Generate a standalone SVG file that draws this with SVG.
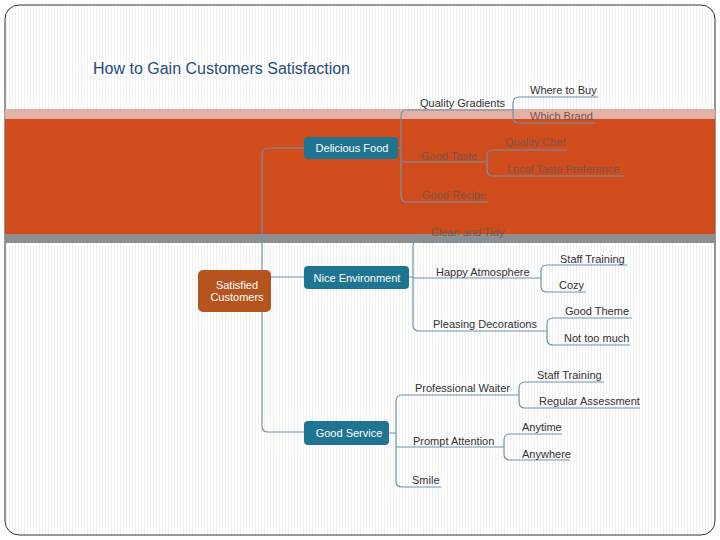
<svg xmlns="http://www.w3.org/2000/svg" width="720" height="540" viewBox="0 0 720 540">
<defs>
<pattern id="st" width="3" height="4" patternUnits="userSpaceOnUse"><rect width="3" height="4" fill="#fff"/><rect width="1" height="4" fill="#f1f1f1"/></pattern>
</defs>
<style>
.t{font-family:"Liberation Sans",Arial,sans-serif;font-size:11px;fill:#333}
.d{fill:#7a5548}
.w{font-family:"Liberation Sans",Arial,sans-serif;font-size:11px;fill:#fff;text-anchor:middle}
.l{fill:none;stroke:#6f93aa;stroke-width:1.2}
.b{fill:#1f7591}
</style>
<rect width="720" height="540" fill="#fff"/>
<rect x="5" y="5" width="710" height="530" rx="14" fill="url(#st)" stroke="#333" stroke-width="1"/>
<rect x="5" y="109" width="710" height="10" fill="#e3b0a6"/>
<rect x="5" y="119" width="710" height="115" fill="#d04c1c"/>
<rect x="5" y="234" width="710" height="9" fill="#8f8f8f"/>
<text x="93" y="74" font-family="Liberation Sans,Arial,sans-serif" font-size="16" fill="#1f4e79">How to Gain Customers Satisfaction</text>
<g id="connectors">
<path class="l" d="M304 148 H268 Q262 148 262 154 V426 Q262 432 268 432 H304 M271 277 H304"/>
<path class="l" d="M398 148 H401 M510 110 H407 Q401 110 401 116 V196 Q401 202 407 202 H488 M401 162 H487"/>
<path class="l" d="M598 97 H519 Q513 97 513 103 V117 Q513 123 519 123 H595 M510 110 H513"/>
<path class="l" d="M567 150 H493 Q487 150 487 156 V170 Q487 176 493 176 H624"/>
<path class="l" d="M409 277 H413 M507 240 H419 Q413 240 413 246 V325 Q413 331 419 331 H545 M413 278 H541"/>
<path class="l" d="M627 265 H547 Q541 265 541 271 V286 Q541 292 547 292 H586"/>
<path class="l" d="M632 318 H553 Q547 318 547 324 V339 Q547 345 553 345 H630 M545 331 H547"/>
<path class="l" d="M389 433 H396 M519 395 H402 Q396 395 396 401 V481 Q396 487 402 487 H441 M396 447 H504"/>
<path class="l" d="M604 382 H525 Q519 382 519 388 V402 Q519 408 525 408 H640"/>
<path class="l" d="M562 434 H510 Q504 434 504 440 V454 Q504 460 510 460 H570"/>
</g>
<g id="root"><rect x="198" y="270" width="73" height="42" rx="5" fill="#b5541c"/><text class="w" x="237" y="289">Satisfied</text><text class="w" x="237" y="301">Customers</text></g>
<g id="food"><rect class="b" x="304" y="137" width="94" height="22" rx="4"/><text class="w" x="352" y="152">Delicious Food</text></g>
<g id="env"><rect class="b" x="304" y="266" width="105" height="23" rx="4"/><text class="w" x="357" y="282">Nice Environment</text></g>
<g id="service"><rect class="b" x="304" y="421" width="85" height="24" rx="4"/><text class="w" x="349" y="437">Good Service</text></g>
<g id="labels">
<text class="t" x="420" y="107">Quality Gradients</text>
<text class="t" x="530" y="94">Where to Buy</text>
<text class="t d" x="530" y="120">Which Brand</text>
<text class="t d" x="421" y="160">Good Taste</text>
<text class="t d" x="505" y="146">Quality Chef</text>
<text class="t d" x="507" y="173">Local Taste Preference</text>
<text class="t d" x="422" y="199">Good Recipe</text>
<text class="t d" x="431" y="236">Clean and Tidy</text>
<text class="t" x="436" y="276">Happy Atmosphere</text>
<text class="t" x="560" y="263">Staff Training</text>
<text class="t" x="559" y="289">Cozy</text>
<text class="t" x="433" y="328">Pleasing Decorations</text>
<text class="t" x="565" y="315">Good Theme</text>
<text class="t" x="564" y="342">Not too much</text>
<text class="t" x="415" y="392">Professional Waiter</text>
<text class="t" x="537" y="379">Staff Training</text>
<text class="t" x="539" y="405">Regular Assessment</text>
<text class="t" x="413" y="445">Prompt Attention</text>
<text class="t" x="522" y="431">Anytime</text>
<text class="t" x="522" y="458">Anywhere</text>
<text class="t" x="412" y="484">Smile</text>
</g>
</svg>
